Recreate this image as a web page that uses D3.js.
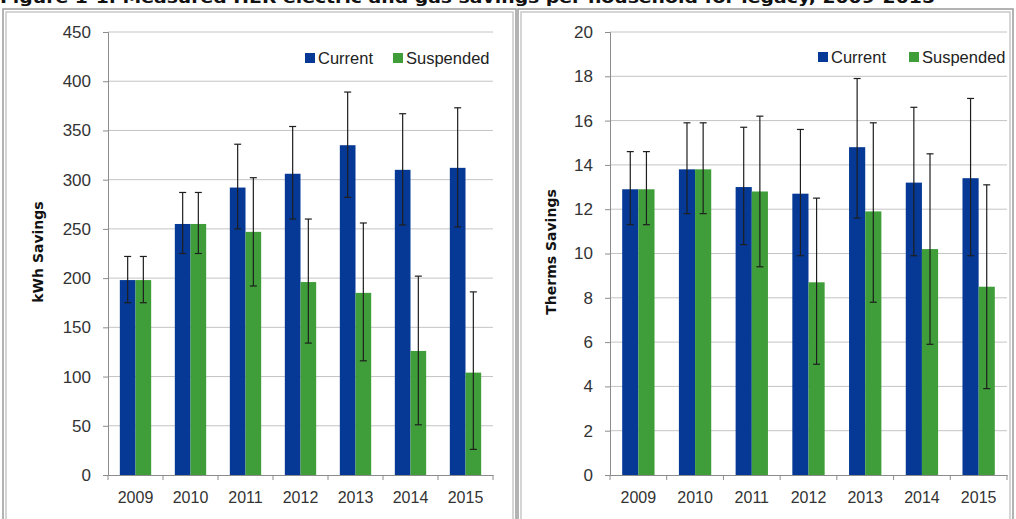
<!DOCTYPE html>
<html lang="en">
<head>
    <meta charset="UTF-8">
    <script src="https://d3js.org/d3.v7.min.js"></script>
    <title>HER savings per household</title>
    <style>
        body { margin: 0; background: white; }
        svg { display: block; }
        .tick text { fill: #333; }
    </style>
</head>
<body>
<div id="chart"></div>
<script>
    const years = ["2009", "2010", "2011", "2012", "2013", "2014", "2015"];
    const series = ["Current", "Suspended"];
    const colors = ["#053995", "#3f9e3a"];

    // electric savings (kWh)
    const kwhCurrent = [198, 255, 292, 306, 335, 310, 312];
    const kwhCurrentLow = [175, 225, 250, 260, 282, 254, 252];
    const kwhCurrentHigh = [222, 287, 336, 354, 389, 367, 373];
    const kwhSuspended = [198, 255, 247, 196, 185, 126, 104];
    const kwhSuspendedLow = [175, 225, 192, 134, 116, 51, 26];
    const kwhSuspendedHigh = [222, 287, 302, 260, 256, 202, 186];
    const kwhTicks = [0, 50, 100, 150, 200, 250, 300, 350, 400, 450];

    // gas savings (therms)
    const thermCurrent = [12.9, 13.8, 13.0, 12.7, 14.8, 13.2, 13.4];
    const thermCurrentLow = [11.3, 11.8, 10.4, 9.9, 11.6, 9.9, 9.9];
    const thermCurrentHigh = [14.6, 15.9, 15.7, 15.6, 17.9, 16.6, 17.0];
    const thermSuspended = [12.9, 13.8, 12.8, 8.7, 11.9, 10.2, 8.5];
    const thermSuspendedLow = [11.3, 11.8, 9.4, 5.0, 7.8, 5.9, 3.9];
    const thermSuspendedHigh = [14.6, 15.9, 16.2, 12.5, 15.9, 14.5, 13.1];
    const thermTicks = [0, 2, 4, 6, 8, 10, 12, 14, 16, 18, 20];

    const width = 1016;
    const height = 519;

    const svg = d3.select("#chart").append("svg")
        .attr("width", width)
        .attr("height", height);

    // title, only its lower half shows at the top of the picture
    svg.append("text")
        .attr("x", 0)
        .attr("y", 3)
        .attr("textLength", 935)
        .attr("lengthAdjust", "spacingAndGlyphs")
        .style("font-family", "DejaVu Sans")
        .style("font-weight", "bold")
        .style("font-size", "15px")
        .attr("fill", "#111")
        .text("Figure 1-1. Measured HER electric and gas savings per household for legacy, 2009-2015");

    // panel frames (double grey lines)
    const frame = (x0, x1) => {
        [0, 3].forEach(o => {
            svg.append("rect")
                .attr("x", x0 + o).attr("y", 9 + o)
                .attr("width", x1 - x0 - 2 * o).attr("height", height)
                .attr("fill", "none")
                .attr("stroke", o === 0 ? "#9a9a9a" : "#c8c8c8")
                .attr("stroke-width", 1.5);
        });
    };
    frame(3, 516);
    frame(518, 1013);

    const drawChart = (opts) => {
        const { left, right, top, bottom, ticks, max, values, lows, highs, yTitle, titleX, legendX, legendY, legendGap } = opts;
        const g = svg.append("g");

        const x = d3.scaleBand().domain(years).range([left, right]);
        const xSub = d3.scaleBand().domain(series)
            .range([x.bandwidth() * 0.215, x.bandwidth() * 0.785]);
        const y = d3.scaleLinear().domain([0, max]).range([bottom, top]);

        // gridlines
        g.selectAll(".grid")
            .data(ticks.filter(t => t > 0))
            .enter().append("line")
            .attr("x1", left).attr("x2", right)
            .attr("y1", d => y(d)).attr("y2", d => y(d))
            .attr("stroke", "#c4c4c4")
            .attr("stroke-width", 1);

        // y axis
        const yAxis = g.append("g")
            .attr("transform", `translate(${left},0)`)
            .call(d3.axisLeft(y).tickValues(ticks).tickSize(5).tickPadding(12));
        yAxis.select(".domain").attr("stroke", "#8c8c8c");
        yAxis.selectAll(".tick line").attr("stroke", "#8c8c8c");
        yAxis.selectAll(".tick text")
            .style("font-family", "Liberation Sans")
            .style("font-size", "17px");

        // bars
        series.forEach((s, si) => {
            g.selectAll(".bar" + si)
                .data(years)
                .enter().append("rect")
                .attr("x", d => x(d) + xSub(s))
                .attr("width", xSub.bandwidth())
                .attr("y", (d, i) => y(values[si][i]))
                .attr("height", (d, i) => y(0) - y(values[si][i]))
                .attr("fill", colors[si]);
        });

        // error bars
        series.forEach((s, si) => {
            const cx = d => x(d) + xSub(s) + xSub.bandwidth() / 2;
            const eg = g.selectAll(".err" + si)
                .data(years)
                .enter().append("g")
                .attr("stroke", "#1e1e1e")
                .attr("stroke-width", 1.2);
            eg.append("line")
                .attr("x1", cx).attr("x2", cx)
                .attr("y1", (d, i) => y(lows[si][i]))
                .attr("y2", (d, i) => y(highs[si][i]));
            eg.append("line")
                .attr("x1", d => cx(d) - 3.5).attr("x2", d => cx(d) + 3.5)
                .attr("y1", (d, i) => y(lows[si][i]))
                .attr("y2", (d, i) => y(lows[si][i]));
            eg.append("line")
                .attr("x1", d => cx(d) - 3.5).attr("x2", d => cx(d) + 3.5)
                .attr("y1", (d, i) => y(highs[si][i]))
                .attr("y2", (d, i) => y(highs[si][i]));
        });

        // x axis with ticks between categories
        const xAxis = g.append("g")
            .attr("transform", `translate(0,${bottom})`)
            .call(d3.axisBottom(x).tickSize(0).tickPadding(17));
        xAxis.select(".domain").attr("stroke", "#8c8c8c");
        xAxis.selectAll(".tick text")
            .style("font-family", "Liberation Sans")
            .style("font-size", "16px");
        g.selectAll(".xsep")
            .data(years.concat(["end"]))
            .enter().append("line")
            .attr("x1", (d, i) => left + i * x.step())
            .attr("x2", (d, i) => left + i * x.step())
            .attr("y1", bottom).attr("y2", bottom + 5)
            .attr("stroke", "#8c8c8c");

        // y axis title
        g.append("text")
            .attr("transform", `translate(${titleX},252) rotate(-90)`)
            .attr("text-anchor", "middle")
            .style("font-family", "DejaVu Sans")
            .style("font-weight", "bold")
            .style("font-size", "14px")
            .attr("fill", "#111")
            .text(yTitle);

        // legend
        const lg = g.append("g").attr("transform", `translate(${legendX},${legendY})`);
        const offsets = [0, legendGap];
        series.forEach((s, si) => {
            lg.append("rect")
                .attr("x", offsets[si]).attr("y", -5)
                .attr("width", 10).attr("height", 10)
                .attr("fill", colors[si]);
            lg.append("text")
                .attr("x", offsets[si] + 13).attr("y", 6)
                .style("font-family", "Liberation Sans")
                .style("font-size", "16.5px")
                .attr("fill", "#222")
                .text(s);
        });
    };

    drawChart({
        left: 108, right: 493, top: 32, bottom: 475,
        ticks: kwhTicks, max: 450,
        values: [kwhCurrent, kwhSuspended],
        lows: [kwhCurrentLow, kwhSuspendedLow],
        highs: [kwhCurrentHigh, kwhSuspendedHigh],
        yTitle: "kWh Savings", titleX: 43,
        legendX: 305, legendY: 58, legendGap: 88
    });

    drawChart({
        left: 610, right: 1007, top: 32, bottom: 475,
        ticks: thermTicks, max: 20,
        values: [thermCurrent, thermSuspended],
        lows: [thermCurrentLow, thermSuspendedLow],
        highs: [thermCurrentHigh, thermSuspendedHigh],
        yTitle: "Therms Savings", titleX: 556,
        legendX: 818, legendY: 57, legendGap: 91
    });
</script>
</body>
</html>
